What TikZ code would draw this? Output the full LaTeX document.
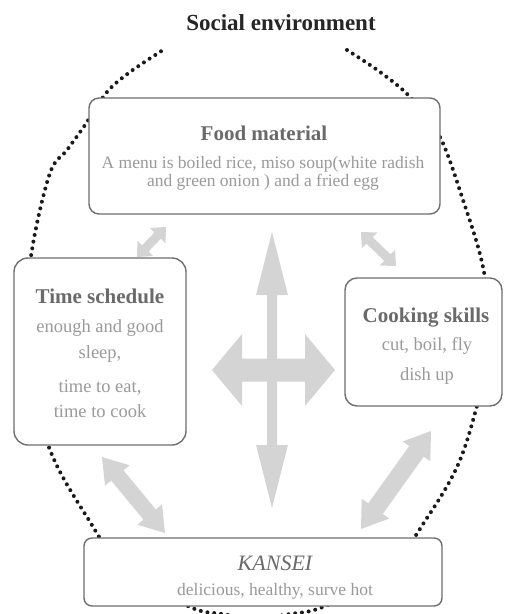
\documentclass[tikz,border=0pt]{standalone}
\usepackage{fontspec}
\setmainfont{Liberation Serif}
\usetikzlibrary{calc}
\definecolor{boxline}{HTML}{6E6E6E}
\definecolor{headc}{HTML}{6A6A6A}
\definecolor{bodyc}{HTML}{9A9A9A}
\definecolor{arrowc}{HTML}{D4D4D4}
\definecolor{dotc}{HTML}{1A1A1A}
% #1 start, #2 end, #3 shaft half width, #4 head half width, #5 head length
\newcommand\grayarrow[5]{%
  \fill[arrowc] (#1)
    -- ($($(#1)!#5!(#2)$)!#4!90:(#2)$)
    -- ($($(#1)!#5!(#2)$)!#3!90:(#2)$)
    -- ($($(#2)!#5!(#1)$)!#3!-90:(#1)$)
    -- ($($(#2)!#5!(#1)$)!#4!-90:(#1)$)
    -- (#2)
    -- ($($(#2)!#5!(#1)$)!#4!90:(#1)$)
    -- ($($(#2)!#5!(#1)$)!#3!90:(#1)$)
    -- ($($(#1)!#5!(#2)$)!#3!-90:(#2)$)
    -- ($($(#1)!#5!(#2)$)!#4!-90:(#2)$)
    -- cycle;}
\begin{document}
\begin{tikzpicture}[x=1pt,y=-1pt,
  box/.style={draw=boxline, line width=1.4pt, fill=white, inner sep=0pt},
  headtxt/.style={anchor=base, text=headc, inner sep=0pt, font=\fontsize{21}{21}\selectfont\bfseries},
  bodytxt/.style={anchor=base, text=bodyc, inner sep=0pt, font=\fontsize{18.5}{18.5}\selectfont},
  smalltxt/.style={anchor=base, text=bodyc, inner sep=0pt, font=\fontsize{17.5}{16}\selectfont},
  dotline/.style={draw=dotc, line width=4pt, line cap=round, dash pattern=on 0pt off 6.8pt},
]
\useasboundingbox (0,0) rectangle (505,614);

% dotted social environment boundary
\draw[dotline] plot[smooth, tension=0.55] coordinates {
  (347,50) (380,72) (410,97) (440,137) (463,200) (483,267) (491,340)
  (475,413) (457,467) (427,518) (385,575) (323,607) (290,614) (256,618)
  (222,614) (190,607) (125,570) (87,517) (50,450) (22,350) (32,250)
  (50,173) (67,150) (85,125) (107,92) (130,72) (163,50)};

% title
\node[anchor=base, inner sep=0pt, text=black!85, font=\fontsize{23}{23}\selectfont\bfseries] (title) at (281,30) {Social environment};

% boxes
\node[box, rounded corners=10pt, minimum width=351pt, minimum height=116pt] (food) at (264.5,156) {};
\node[box, rounded corners=14pt, minimum width=172pt, minimum height=187pt] (time) at (100,351.5) {};
\node[box, rounded corners=12pt, minimum width=157pt, minimum height=128pt] (cook) at (423.5,342) {};
\node[box, rounded corners=8pt, minimum width=358pt, minimum height=68pt] (kansei) at (263,572) {};

% texts
\node[headtxt] (foodT) at (264,140) {Food material};
\node[smalltxt, align=center] (foodA) at (263,186) {A menu is boiled rice, miso soup(white radish\\and green onion ) and a fried egg};

\node[headtxt] (timeT) at (100,303) {Time schedule};
\node[bodytxt] (timeA) at (100,332) {enough and good};
\node[bodytxt] (timeB) at (100,358) {sleep,};
\node[bodytxt] (timeC) at (100,392) {time to eat,};
\node[bodytxt] (timeD) at (100,417) {time to cook};

\node[headtxt] (cookT) at (426,322) {Cooking skills};
\node[bodytxt] (cookA) at (427,350) {cut, boil, fly};
\node[bodytxt] (cookB) at (427,380) {dish up};

\node[anchor=base, inner sep=0pt, text=headc, font=\fontsize{22}{22}\selectfont\itshape] (kanT) at (275,570) {KANSEI};
\node[smalltxt] (kanA) at (275,595) {delicious, healthy, surve hot};

% arrow end points
\coordinate (a1s) at (137,257); \coordinate (a1e) at (166,227);
\coordinate (a2s) at (361,232); \coordinate (a2e) at (396,266);
\coordinate (vs) at (272,232);  \coordinate (ve) at (272,508);
\coordinate (hs) at (212,370);  \coordinate (he) at (335,370);
\coordinate (a4s) at (102,457); \coordinate (a4e) at (165,533);
\coordinate (a5s) at (431,431); \coordinate (a5e) at (361,529);

\grayarrow{a1s}{a1e}{4.5pt}{11pt}{12pt}
\grayarrow{a2s}{a2e}{4.5pt}{11pt}{12pt}
\grayarrow{vs}{ve}{5pt}{16pt}{63pt}
\grayarrow{hs}{he}{11.5pt}{36pt}{30pt}
\grayarrow{a4s}{a4e}{8pt}{16pt}{24pt}
\grayarrow{a5s}{a5e}{9pt}{17pt}{25pt}
\end{tikzpicture}
\end{document}
